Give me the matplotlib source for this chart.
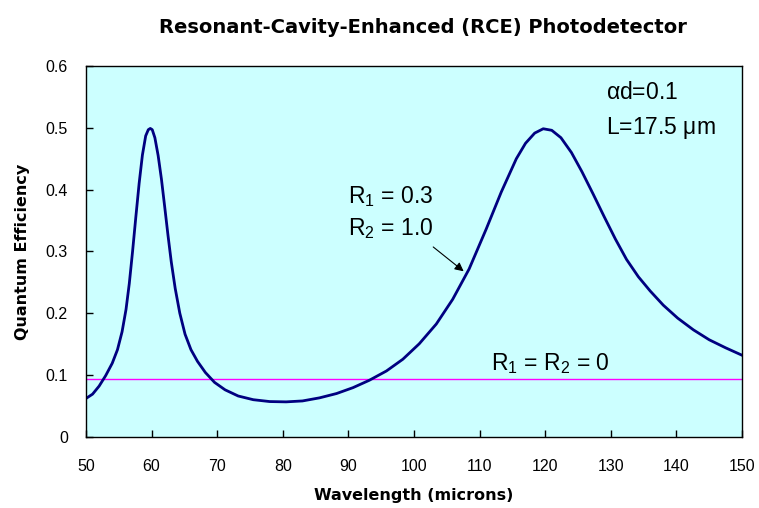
import numpy as np
import matplotlib
matplotlib.use("Agg")
import matplotlib.pyplot as plt

# values
wavelength = [50.0, 51.0, 52.0, 53.0, 54.0, 54.8, 55.5, 56.1, 56.6, 57.1, 57.6,
              58.1, 58.6, 59.1, 59.5, 59.8, 60.1, 60.5, 61.0, 61.5, 62.0, 62.5,
              63.0, 63.6, 64.3, 65.1, 66.0, 67.0, 68.2, 69.6, 71.2, 73.2, 75.5,
              78.0, 80.5, 83.0, 85.6, 88.2, 90.7, 93.2, 95.8, 98.3, 100.8, 103.4,
              105.9, 108.4, 111.0, 113.3, 115.6, 117.0, 118.4, 119.7, 121.0,
              122.4, 124.0, 125.6, 127.3, 129.0, 130.7, 132.4, 134.2, 136.0,
              138.0, 140.2, 142.6, 145.0, 147.5, 150.0]
efficiency = [0.062, 0.069, 0.082, 0.099, 0.119, 0.141, 0.170, 0.206, 0.248, 0.300, 0.356,
              0.410, 0.456, 0.487, 0.497, 0.499, 0.497, 0.484, 0.455, 0.417, 0.372, 0.326,
              0.283, 0.240, 0.200, 0.166, 0.141, 0.122, 0.104, 0.088, 0.076, 0.066, 0.060,
              0.057, 0.0565, 0.058, 0.063, 0.070, 0.0795, 0.0915, 0.1065, 0.1255, 0.1505, 0.1825,
              0.2225, 0.2715, 0.336, 0.396, 0.450, 0.475, 0.4915, 0.4985, 0.496,
              0.484, 0.460, 0.429, 0.393, 0.356, 0.320, 0.287, 0.259, 0.236,
              0.213, 0.192, 0.173, 0.157, 0.144, 0.132]
no_mirror_level = 0.094
xticks = [50, 60, 70, 80, 90, 100, 110, 120, 130, 140, 150]
yticks = [0, 0.1, 0.2, 0.3, 0.4, 0.5, 0.6]
ytick_labels = ["0", "0.1", "0.2", "0.3", "0.4", "0.5", "0.6"]

plt.rcParams['font.family'] = ['Liberation Sans', 'DejaVu Sans']
plt.rcParams['mathtext.fontset'] = 'custom'
plt.rcParams['mathtext.rm'] = 'Liberation Sans'

fig = plt.figure(figsize=(7.59, 5.08), dpi=100)
ax = fig.add_axes([0.1133, 0.1402, 0.8643, 0.7298])
ax.set_facecolor('#CCFFFF')

ax.axhline(no_mirror_level, color='#FF00FF', linewidth=1.0)
ax.plot(wavelength, efficiency, color='#000080', linewidth=2.0,
        solid_joinstyle='round')

ax.set_xlim(50, 150)
ax.set_ylim(0, 0.6)
ax.set_xticks(xticks)
ax.set_yticks(yticks)
ax.set_yticklabels(ytick_labels)
ax.tick_params(axis='both', direction='in', length=5, width=1, labelsize=11.5)
ax.tick_params(axis='x', pad=16)
ax.tick_params(axis='y', pad=13)
for s in ax.spines.values():
    s.set_linewidth(1.0)

bold_family = ['DejaVu Sans']
ax.set_title('Resonant-Cavity-Enhanced (RCE) Photodetector', fontsize=14,
             fontweight='bold', pad=24, x=0.514, family=bold_family)
ax.set_xlabel('Wavelength (microns)', fontsize=11.5, fontweight='bold',
              labelpad=10, family=bold_family)
ax.set_ylabel('Quantum Efficiency', fontsize=11.5, fontweight='bold',
              labelpad=11, family=bold_family)

ax.text(129.2, 0.546, r'$\mathregular{\alpha}$d=0.1', fontsize=16.5)
ax.text(129.2, 0.49, r'L=17.5 $\mathregular{\mu}$m', fontsize=16.5)
ax.text(89.9, 0.378, r'R$_\mathregular{1}$ = 0.3', fontsize=16.5)
ax.text(89.9, 0.327, r'R$_\mathregular{2}$ = 1.0', fontsize=16.5)
ax.text(111.75, 0.108, r'R$_\mathregular{1}$ = R$_\mathregular{2}$ = 0', fontsize=16.5)
ax.annotate('', xy=(107.9, 0.265), xytext=(102.6, 0.310),
            arrowprops=dict(arrowstyle='-|>', color='black', lw=0.8,
                            mutation_scale=13))

fig.savefig('out.png', dpi=100)
